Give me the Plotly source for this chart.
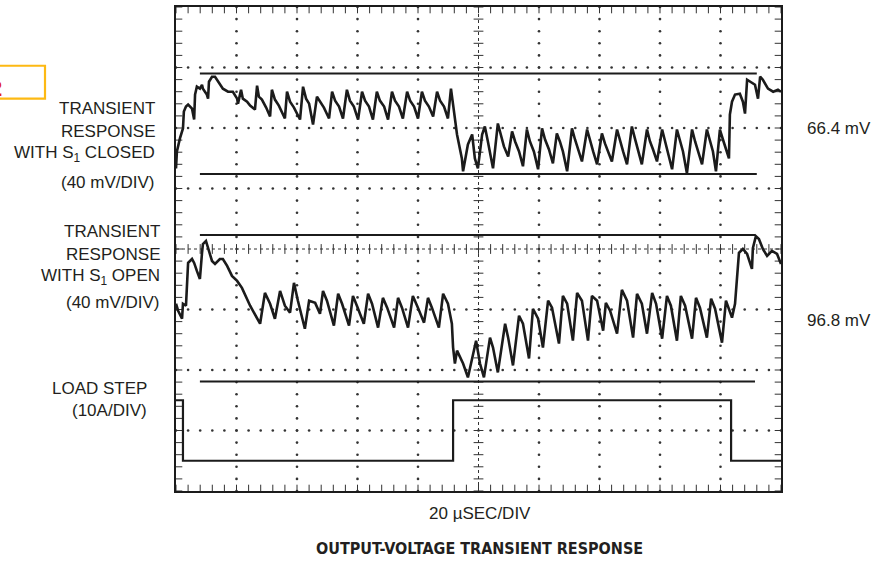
import numpy as np
import plotly.graph_objects as go

# ---------------- scope settings ----------------
T_PER_DIV = 20          # µs / div
N_XDIV = 10
N_YDIV = 8
CH1_GND, CH1_SCALE = 6, 40    # div, mV/div
CH2_GND, CH2_SCALE = 3, 40    # div, mV/div
LOAD_GND, LOAD_SCALE = 1, 10  # div, A/div

# ---------------- data ----------------
# Channel 1: transient response with S1 closed (µs, mV)
ch1_t = [0, 0.3, 1.3, 2.3, 2.6, 3.3, 4.0, 5.3, 6.0, 6.3, 6.9, 7.9, 8.6, 8.9, 10.2, 10.6,
         10.9, 11.9, 12.9, 13.9, 15.5, 17.2, 18.8, 20.2, 20.5, 21.5, 22.1, 23.5, 24.5,
         26.1, 26.8, 27.4, 28.4, 29.8, 31.1, 31.7, 32.7, 34.0, 36.0, 36.7, 37.7, 39.0,
         41.0, 42.0, 43.0, 44.0, 45.3, 46.6, 47.6, 48.9, 50.6, 51.6, 52.6, 53.9,
         55.2, 56.5, 57.5, 58.8, 60.2, 61.5, 62.5, 63.8, 65.1, 66.4, 67.4, 68.8,
         70.1, 71.4, 72.4, 73.7, 75.0, 76.4, 77.4, 78.7, 80.0, 81.3, 82.3, 83.6,
         85.0, 86.3, 87.3, 88.6, 89.9, 90.9, 91.6, 92.9, 94.5, 94.9, 96.5, 97.9,
         98.8, 99.8, 101.2, 102.1, 103.1, 104.8,
         106.4, 107.4, 108.4, 109.8, 111.1, 112.1, 113.4, 114.7, 116.0, 117.0, 118.3,
         119.7, 121.0, 122.0, 123.3, 124.6, 125.9, 126.9, 127.9, 129.3, 130.9, 131.9,
         132.9, 134.2, 135.9, 136.9, 137.9, 139.2, 140.8, 141.8, 142.8, 144.1, 145.8,
         146.8, 147.8, 149.1, 150.7, 151.7, 152.7, 154.0, 155.7, 156.7, 157.7, 159.0,
         160.7, 161.7, 162.6, 164.0, 165.6, 166.6, 167.6, 168.9, 170.6, 171.6, 172.6,
         173.9, 175.5, 176.5, 177.5, 178.5, 179.8, 180.8, 181.8, 182.8,
         183.1, 183.8, 184.8, 186.4, 187.4, 188.1, 188.8, 189.8, 191.4, 192.4, 193.1,
         194.0, 195.7, 197.4, 199.0, 200]
ch1_mv = [-26.7, -15.5, -6.9, -0.3, 10.9, 14.2, 15.5, 12.8, 5.6, 22.1, 27.3, 26.0, 28.6, 26.0, 22.1, 19.4,
          30.6, 33.9, 33.9, 30.6, 26.0, 24.0, 24.0, 19.4, 16.1, 25.3, 19.4, 17.4, 14.8,
          12.2, 28.0, 20.7, 18.8, 13.5, 7.6, 25.3, 18.8, 14.8, 6.3, 24.0, 17.4, 13.5,
          5.6, 27.3, 19.4, 16.1, 2.3, 20.7, 17.4, 13.5, 6.3, 24.0, 18.1, 14.2,
          6.3, 25.3, 18.1, 14.2, 5.6, 24.0, 18.1, 14.2, 5.6, 24.0, 18.1, 14.2,
          5.6, 24.0, 18.1, 14.2, 6.3, 24.0, 18.1, 14.2, 6.3, 24.0, 18.1, 14.2,
          7.6, 24.0, 18.1, 14.2, 6.3, 26.0, 15.5, -4.3, -20.1, -28.6, -10.9, -4.3,
          -20.1, -26.7, -4.3, 1.0, -8.9, -26.7,
          3.0, -5.6, -12.2, -18.8, -2.3, -8.9, -15.5, -25.3, -1.0, -8.9, -15.5,
          -27.3, -0.3, -7.6, -14.2, -23.4, -3.6, -8.9, -15.5, -28.6, -0.3, -7.6,
          -14.2, -22.1, -1.0, -8.9, -15.5, -24.0, -3.6, -10.2, -15.5, -22.1, -1.0,
          -8.9, -15.5, -24.0, 1.0, -6.9, -14.2, -24.0, -1.0, -8.9, -14.2, -22.1,
          -1.0, -8.9, -15.5, -27.3, -1.0, -8.9, -15.5, -30.0, -1.0, -8.9, -15.5,
          -24.0, -1.0, -8.9, -15.5, -28.6, -1.0, -7.6, -14.2, -20.1,
          8.9, 17.4, 22.1, 22.7, 17.4, 9.5, 31.9, 30.6, 28.6, 19.4, 33.9,
          31.9, 26.0, 24.0, 25.3, 24.0]
ch1_cursor_mv = [36.0, -30.4]     # 66.4 mV apart
ch1_cursor_t = [7.9, 192.0]

# Channel 2: transient response with S1 open (µs, mV)
ch2_t = [0, 0.7, 2.0, 2.3, 3.3, 3.6, 4.0, 5.3, 6.0, 6.9, 7.9, 8.6, 8.9, 9.9, 10.6, 11.9,
         12.9, 14.5, 15.5, 16.9, 18.5, 20.2, 21.8, 24.5, 27.8, 29.4, 31.1, 32.7, 34.4,
         36.0, 37.7, 39.0, 40.3, 42.6, 44.0, 46.0, 47.6, 48.6, 49.9, 52.2, 53.6, 54.9,
         57.2, 58.5, 59.8, 62.1, 63.5, 64.8, 66.8, 68.4, 69.8, 72.1, 73.4, 74.7, 76.7,
         78.3, 79.7, 82.0, 83.3, 84.6, 86.9, 88.3, 89.9, 91.2, 91.6, 92.2, 92.9, 93.9,
         94.9, 96.5, 98.2, 99.2, 100.5, 101.8, 103.8, 104.8, 106.4, 108.8, 109.8,
         111.4, 113.4, 114.7, 116.7, 118.0, 119.7, 121.3, 123.0, 124.3, 126.6, 127.9,
         129.3, 131.2, 132.6, 134.2, 136.2, 137.5, 139.2, 141.2, 142.1, 143.5, 145.8,
         147.4, 149.1, 151.1, 152.4, 154.0, 155.7, 157.4, 158.7, 160.7, 162.3, 163.6,
         165.6, 166.9, 168.3, 170.6, 171.9, 173.2, 175.5, 176.9, 178.2, 180.5, 181.8,
         182.8, 183.8, 184.8, 185.5, 186.1, 187.4, 188.8, 190.4, 190.7, 191.7, 192.7,
         194.0, 195.4, 197.0, 198.7, 200]
ch2_mv = [3.8, -0.8, -6.1, 3.8, 2.5, 17.0, 30.8, 33.4, 30.8, 25.5, 20.2, 37.4, 43.3, 45.3, 40.0, 32.1,
          30.1, 33.4, 33.4, 28.8, 22.2, 18.9, 14.3, 2.5, -9.4, 11.0, 3.8, -6.1, 12.3,
          2.5, -2.1, 17.6, 5.8, -12.7, 5.8, 4.4, -2.8, 12.3, 5.8, -10.7, 10.4, 3.8,
          -10.7, 9.0, 2.5, -9.4, 10.4, 3.8, -12.0, 7.7, 1.2, -12.0, 7.7, 1.2, -12.0,
          9.0, 2.5, -8.7, 7.7, 1.2, -12.0, 10.4, 3.8, -9.4, -25.2, -35.7, -27.2, -31.8,
          -35.7, -44.9, -29.1, -20.6, -35.7, -44.9, -18.6, -25.2, -41.6, -9.4, -18.6,
          -37.0, -4.1, -9.4, -32.4, 0.5, -6.1, -25.2, 5.8, 1.2, -22.5, 9.0,
          3.8, -20.6, 11.0, 5.8, -20.6, 9.0, 5.8, -14.0, 4.4, -0.8, -16.0,
          13.0, 5.8, -18.6, 10.4, 3.8, -16.0, 11.0, 3.8, -19.3, 9.0, 2.5,
          -20.6, 9.0, 2.5, -19.3, 7.7, 1.2, -18.6, 7.1, 0.5, -21.9, 5.8,
          0.5, -5.4, 3.8, 20.9, 37.4, 40.0, 36.7, 26.8, 40.6, 48.5, 46.6,
          40.0, 35.4, 38.7, 36.7, 30.1]
ch2_cursor_mv = [49.2, -47.6]     # 96.8 mV apart
ch2_cursor_t = [7.9, 191.4]

# Load step (µs, A)
load_t = [0, 2.3, 2.3, 91.6, 91.6, 183.5, 183.5, 200]
load_a = [5, 5, -5, -5, 5, 5, -5, -5]

# ---------------- helpers ----------------
def to_div(vals, gnd, scale):
    return [gnd + v / scale for v in vals]

X0, X1 = 176, 781   # plot-area pixels
Y0, Y1 = 5, 491
W, H = 892, 569
def px(x):
    return (x - X0) / (X1 - X0)
def py(y):
    return (Y1 - y) / (Y1 - Y0)

INK = "#1b1b1b"
fig = go.Figure()
XMAX = T_PER_DIV * N_XDIV

# graticule dots
minor_t = np.arange(0, XMAX + 0.01, T_PER_DIV / 5)
minor_v = np.arange(0, N_YDIV + 0.001, 0.2)
gx, gy = [], []
for row in range(1, N_YDIV):
    if row == N_YDIV // 2:
        continue
    gx += list(minor_t); gy += [row] * len(minor_t)
for col in range(1, N_XDIV):
    if col == N_XDIV // 2:
        continue
    gx += [col * T_PER_DIV] * len(minor_v); gy += list(minor_v)
fig.add_trace(go.Scatter(x=gx, y=gy, mode="markers",
                         marker=dict(size=2.6, color="#333"), hoverinfo="skip"))

# centre lines (dense dotted) with cross ticks
cx = XMAX / 2; cy = N_YDIV / 2
fig.add_trace(go.Scatter(x=[0, XMAX], y=[cy, cy], mode="lines",
                         line=dict(color="#333", width=1, dash="dot"), hoverinfo="skip"))
fig.add_trace(go.Scatter(x=[cx, cx], y=[0, N_YDIV], mode="lines",
                         line=dict(color="#333", width=1, dash="dot"), hoverinfo="skip"))
fig.add_trace(go.Scatter(x=minor_t, y=[cy] * len(minor_t), mode="markers",
                         marker=dict(symbol="line-ns", size=7, line=dict(width=1, color="#333")),
                         hoverinfo="skip"))
fig.add_trace(go.Scatter(x=[cx] * len(minor_v), y=minor_v, mode="markers",
                         marker=dict(symbol="line-ew", size=7, line=dict(width=1, color="#333")),
                         hoverinfo="skip"))
# border ticks (inside)
fig.add_trace(go.Scatter(x=list(minor_t) * 2, y=[0] * len(minor_t) + [N_YDIV] * len(minor_t),
                         mode="markers",
                         marker=dict(symbol="line-ns", size=9, line=dict(width=1, color="#333")),
                         hoverinfo="skip"))
fig.add_trace(go.Scatter(x=[0] * len(minor_v) + [XMAX] * len(minor_v), y=list(minor_v) * 2,
                         mode="markers",
                         marker=dict(symbol="line-ew", size=9, line=dict(width=1, color="#333")),
                         hoverinfo="skip"))

# cursors
for v in ch1_cursor_mv:
    fig.add_trace(go.Scatter(x=ch1_cursor_t, y=to_div([v, v], CH1_GND, CH1_SCALE), mode="lines",
                             line=dict(color=INK, width=2), hoverinfo="skip"))
for v in ch2_cursor_mv:
    fig.add_trace(go.Scatter(x=ch2_cursor_t, y=to_div([v, v], CH2_GND, CH2_SCALE), mode="lines",
                             line=dict(color=INK, width=2), hoverinfo="skip"))

# waveforms
fig.add_trace(go.Scatter(x=ch1_t, y=to_div(ch1_mv, CH1_GND, CH1_SCALE), mode="lines",
                         line=dict(color=INK, width=2.6), name="S1 closed"))
fig.add_trace(go.Scatter(x=ch2_t, y=to_div(ch2_mv, CH2_GND, CH2_SCALE), mode="lines",
                         line=dict(color=INK, width=2.6), name="S1 open"))
fig.add_trace(go.Scatter(x=load_t, y=to_div(load_a, LOAD_GND, LOAD_SCALE), mode="lines",
                         line=dict(color=INK, width=2.2), name="Load step"))

# ground markers
fig.add_trace(go.Scatter(x=[-1.4] * 3, y=[CH1_GND, CH2_GND, LOAD_GND], mode="markers",
                         marker=dict(symbol="triangle-right", size=8, color=INK),
                         cliponaxis=False, hoverinfo="skip"))

FONT = "Liberation Sans, Arial, Helvetica, sans-serif"
TXT = "#231f20"
labels = [
    ("TRANSIENT", 157, 107), ("RESPONSE", 157, 130),
    ("WITH S<sub>1</sub> CLOSED", 157, 153), ("(40 mV/DIV)", 157, 181),
    ("TRANSIENT", 162, 230), ("RESPONSE", 162, 254),
    ("WITH S<sub>1</sub> OPEN", 162, 276), ("(40 mV/DIV)", 162, 302),
    ("LOAD STEP", 149, 388), ("(10A/DIV)", 149, 410),
]
ann = []
for text, xr, yc in labels:
    ann.append(dict(text=text, x=px(xr), y=py(yc), xref="paper", yref="paper",
                    xanchor="right", yanchor="middle", showarrow=False,
                    font=dict(family=FONT, size=17, color=TXT)))
for text, yc in [("66.4 mV", 127), ("96.8 mV", 320)]:
    ann.append(dict(text=text, x=px(805), y=py(yc), xref="paper", yref="paper",
                    xanchor="left", yanchor="middle", showarrow=False,
                    font=dict(family=FONT, size=17, color=TXT)))
ann.append(dict(text="20 µSEC/DIV", x=px(480), y=py(514), xref="paper", yref="paper",
                xanchor="center", yanchor="middle", showarrow=False,
                font=dict(family=FONT, size=17, color=TXT)))
ann.append(dict(text="<b>OUTPUT-VOLTAGE TRANSIENT RESPONSE</b>", x=px(479), y=py(549),
                xref="paper", yref="paper", xanchor="center", yanchor="middle", showarrow=False,
                font=dict(family="Liberation Sans Narrow, DejaVu Sans Condensed, sans-serif",
                          size=16, color=TXT)))
ann.append(dict(text="<b>2</b>", x=px(4), y=py(87), xref="paper", yref="paper",
                xanchor="right", yanchor="middle", showarrow=False,
                font=dict(family=FONT, size=22, color="#e2231a")))

shapes = [dict(type="rect", xref="paper", yref="paper", x0=px(-5), x1=px(45),
               y0=py(97), y1=py(64), line=dict(color="#fdb913", width=2.2))]

fig.update_layout(
    width=W, height=H, showlegend=False,
    margin=dict(l=X0, r=W - X1, t=Y0, b=H - Y1),
    paper_bgcolor="white", plot_bgcolor="white",
    annotations=ann, shapes=shapes,
    xaxis=dict(range=[0, XMAX], showgrid=False, zeroline=False, showticklabels=False,
               ticks="", showline=True, mirror=True, linewidth=2, linecolor=INK),
    yaxis=dict(range=[0, N_YDIV], showgrid=False, zeroline=False, showticklabels=False,
               ticks="", showline=True, mirror=True, linewidth=2, linecolor=INK),
)
fig.write_html("out.html", config={"displayModeBar": False},
               post_script="document.body.style.margin='0';document.body.style.overflow='hidden';")
